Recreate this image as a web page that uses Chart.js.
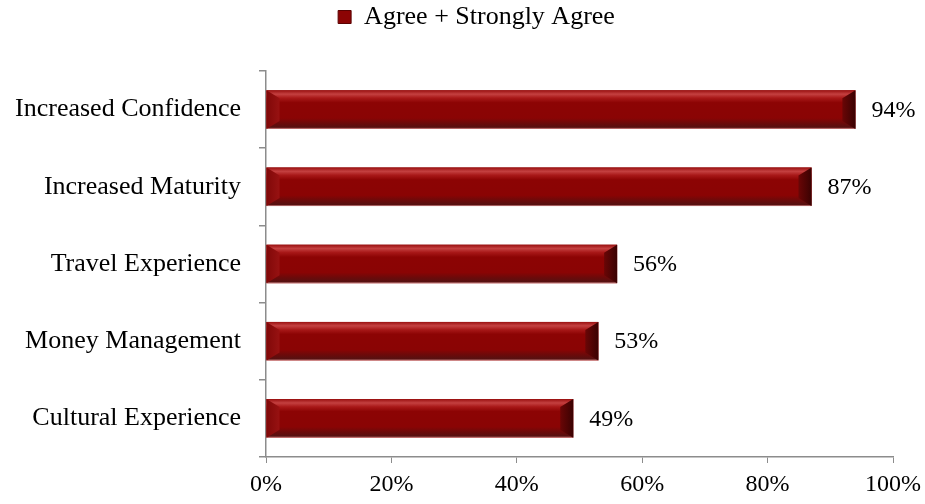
<!DOCTYPE html>
<html>
<head>
<meta charset="utf-8">
<script src="https://cdn.jsdelivr.net/npm/chart.js@4.4.1/dist/chart.umd.min.js"></script>
<style>
    html, body { margin: 0; padding: 0; background: #fff; }
    #wrap { width: 925px; height: 504px; }
</style>
</head>
<body>
<div id="wrap"><canvas id="myChart" width="925" height="504"></canvas></div>
<script>
// dati
let categorie = [
    "Increased Confidence",
    "Increased Maturity",
    "Travel Experience",
    "Money Management",
    "Cultural Experience",
];
let valori = [94, 87, 56, 53, 49];
let serieNome = "Agree + Strongly Agree";
let tickX = [0, 20, 40, 60, 80, 100];

let serif = "'Liberation Serif', 'Times New Roman', serif";
let grigio = "#8c8c8c";

// effetto "bevel" sulle barre, disegnato sopra la barra di base
let bevelPlugin = {
    id: "bevel",
    afterDatasetsDraw(chart) {
        let ctx = chart.ctx;
        let meta = chart.getDatasetMeta(0);
        meta.data.forEach((bar) => {
            let x0 = bar.base;
            let x1 = bar.x;
            let y0 = bar.y - bar.height / 2;
            let y1 = bar.y + bar.height / 2;
            let h = y1 - y0;
            let bx = 13;
            let by = 8;
            ctx.save();
            // corpo
            let g = ctx.createLinearGradient(0, y0, 0, y1);
            g.addColorStop(0, "#9a1010");
            g.addColorStop(0.1, "#c44040");
            g.addColorStop(0.2, "#a81818");
            g.addColorStop(0.32, "#8c0404");
            g.addColorStop(0.72, "#8a0404");
            g.addColorStop(0.85, "#6c0a0a");
            g.addColorStop(0.96, "#561010");
            g.addColorStop(1, "#d89090");
            ctx.fillStyle = g;
            ctx.fillRect(x0, y0, x1 - x0, h);
            // lato sinistro
            ctx.beginPath();
            ctx.moveTo(x0, y0);
            ctx.lineTo(x0 + bx, y0 + by);
            ctx.lineTo(x0 + bx, y1 - by);
            ctx.lineTo(x0, y1);
            ctx.closePath();
            let gl = ctx.createLinearGradient(x0, 0, x0 + bx, 0);
            gl.addColorStop(0, "#800808");
            gl.addColorStop(1, "#981212");
            ctx.fillStyle = gl;
            ctx.fill();
            // lato destro
            ctx.beginPath();
            ctx.moveTo(x1, y0);
            ctx.lineTo(x1 - bx, y0 + by);
            ctx.lineTo(x1 - bx, y1 - by);
            ctx.lineTo(x1, y1);
            ctx.closePath();
            let gr = ctx.createLinearGradient(x1 - bx, 0, x1, 0);
            gr.addColorStop(0, "#6a0606");
            gr.addColorStop(1, "#3a0202");
            ctx.fillStyle = gr;
            ctx.fill();
            ctx.restore();
        });
    },
};

// etichette dei valori a destra delle barre
let valoriPlugin = {
    id: "valori",
    afterDatasetsDraw(chart) {
        let ctx = chart.ctx;
        let meta = chart.getDatasetMeta(0);
        ctx.save();
        ctx.font = "24px " + serif;
        ctx.fillStyle = "#000";
        ctx.textAlign = "left";
        ctx.textBaseline = "middle";
        meta.data.forEach((bar, i) => {
            ctx.fillText(valori[i] + "%", bar.x + 16, bar.y + 1);
        });
        ctx.restore();
    },
};

// altezza fissa della legenda e spostamento a destra
let legendaPlugin = {
    id: "legendaAltezza",
    beforeInit(chart) {
        let fitOrig = chart.legend.fit;
        chart.legend.fit = function () {
            fitOrig.bind(chart.legend)();
            this.height = 71;
        };
    },
    afterLayout(chart) {
        chart.legend.left += 30;
        chart.legend.right += 30;
    },
};

let ctx = document.getElementById("myChart").getContext("2d");
let grafico = new Chart(ctx, {
    type: "bar",
    data: {
        labels: categorie,
        datasets: [
            {
                label: serieNome,
                data: valori,
                backgroundColor: "#8c0404",
                borderWidth: 0,
                barPercentage: 0.5,
                categoryPercentage: 1,
            },
        ],
    },
    options: {
        indexAxis: "y",
        responsive: false,
        animation: false,
        layout: { padding: { left: 0, right: 32, top: 0, bottom: 0 } },
        plugins: {
            legend: {
                display: true,
                position: "top",
                labels: {
                    color: "#000",
                    font: { family: serif, size: 26 },
                    boxWidth: 13,
                    boxHeight: 13,
                    padding: 4,
                    generateLabels: () => [
                        {
                            text: serieNome,
                            fillStyle: "#8c0404",
                            strokeStyle: "#5a0202",
                            lineWidth: 1,
                        },
                    ],
                },
            },
            tooltip: { enabled: false },
        },
        scales: {
            x: {
                min: 0,
                max: 100,
                afterBuildTicks: (scale) => {
                    scale.ticks = tickX.map((v) => ({ value: v }));
                },
                afterFit: (scale) => {
                    scale.height = 47;
                    scale.paddingLeft = 0;
                    scale.paddingRight = 0;
                },
                ticks: {
                    color: "#000",
                    font: { family: serif, size: 24 },
                    padding: 7,
                    callback: (v) => v + "%",
                    maxRotation: 0,
                },
                grid: {
                    drawOnChartArea: false,
                    drawTicks: true,
                    tickLength: 6,
                    color: grigio,
                },
                border: { display: true, color: grigio, width: 1.5 },
            },
            y: {
                offset: true,
                afterFit: (scale) => {
                    scale.width = 266;
                },
                ticks: {
                    color: "#000",
                    font: { family: serif, size: 26 },
                    padding: 18,
                },
                grid: {
                    offset: true,
                    drawOnChartArea: false,
                    drawTicks: true,
                    tickLength: 7,
                    color: grigio,
                    lineWidth: 1.5,
                },
                border: { display: true, color: grigio, width: 1.5 },
            },
        },
    },
    plugins: [legendaPlugin, bevelPlugin, valoriPlugin],
});
</script>
</body>
</html>
